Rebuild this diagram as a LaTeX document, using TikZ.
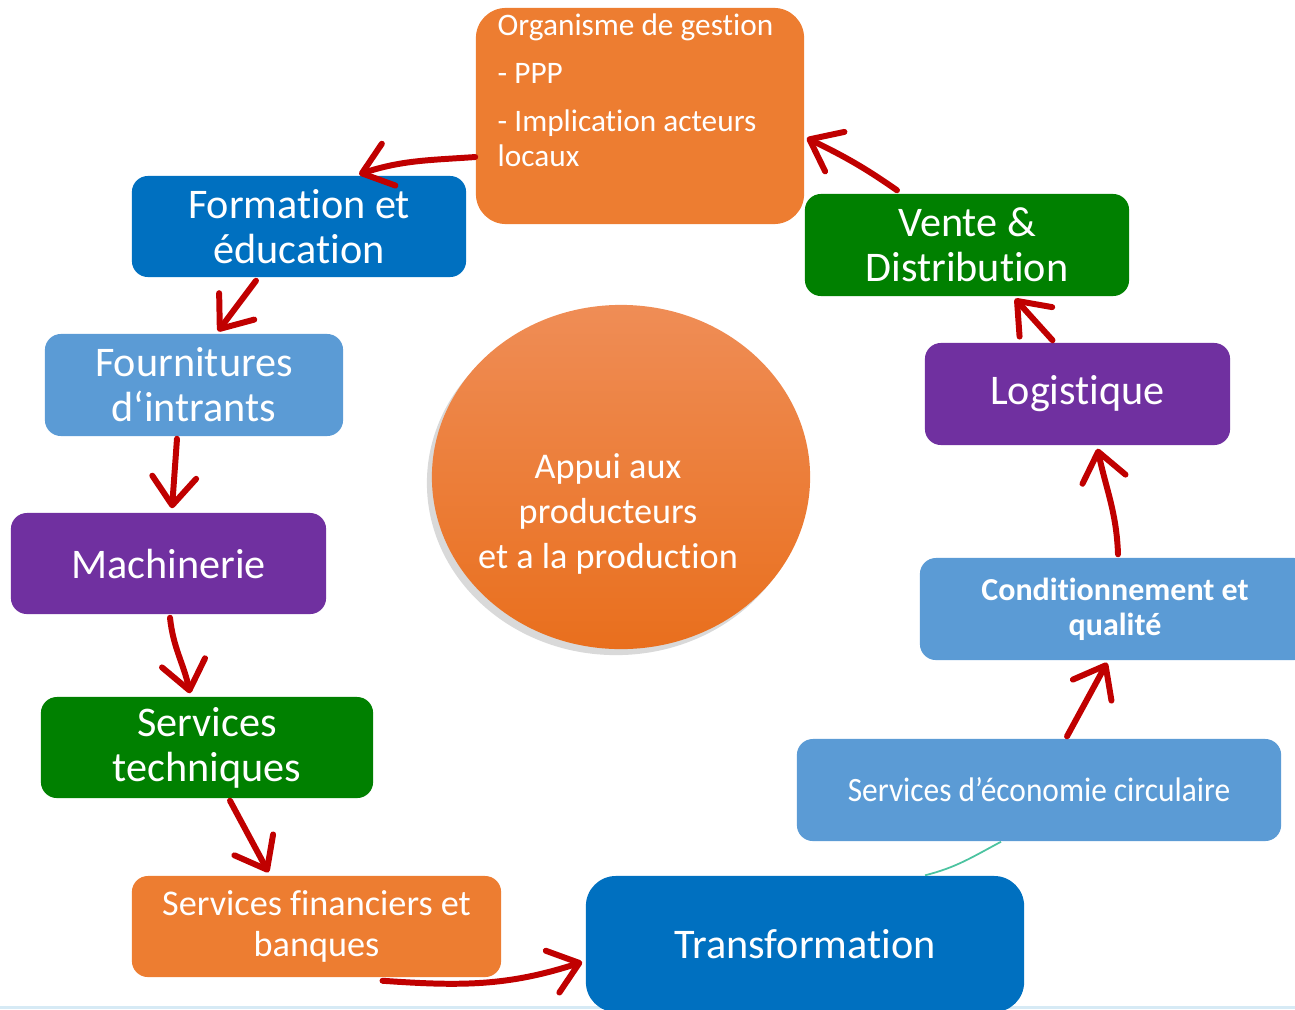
\documentclass[tikz,border=0pt]{standalone}
\usepackage{fontspec}
\setmainfont{Carlito}[Ligatures=NoCommon]
\newfontfamily\etroit{Carlito}[FakeStretch=0.92, Ligatures=NoCommon]
\usepackage{xcolor}
\usetikzlibrary{positioning,calc,shapes,arrows.meta,shadows}
\definecolor{orangeb}{HTML}{ED7D31}
\definecolor{orangeh}{HTML}{EF8D56}
\definecolor{orangeo}{HTML}{E96F1D}
\definecolor{bleuf}{HTML}{0070C0}
\definecolor{bleuc}{HTML}{5B9BD5}
\definecolor{violet}{HTML}{7030A0}
\definecolor{vert}{HTML}{008000}
\definecolor{rouge}{HTML}{C00000}
\definecolor{turquoise}{HTML}{4CC3A0}
\definecolor{bordbas}{HTML}{D6EAF5}

\begin{document}
\begin{tikzpicture}[x=0.01cm, y=0.01cm,
	boite/.style={rounded corners=0.16cm, text=white, align=center, inner sep=0pt,
		font=\fontsize{12}{12.8}\selectfont},
	fleche/.style={line width=1.7pt, rouge, line cap=round,
		-{Straight Barb[length=8pt,width=12.5pt,round]}}]
			\useasboundingbox (0,0) rectangle (1295,-1009);
			\clip (0,0) rectangle (1295,-1009);
			\draw [line width=0.6pt, bordbas] (0,-1007.5) -- (1295,-1007.5);
			% centre
			\node[ellipse, minimum width=3.78cm, minimum height=3.44cm, inner sep=0pt,
				top color=orangeh, bottom color=orangeo,
				drop shadow={shadow xshift=-0.05cm, shadow yshift=-0.06cm, opacity=0.3}] (appui) at (621,-477) {};
			\node[text=white, align=center, font=\fontsize{10.3}{12.8}\selectfont] (appuitxt) at (608,-514) {Appui aux\\producteurs\\et a la production};
			% boites
			\node[boite, fill=orangeb, rounded corners=0.3cm, minimum width=3.28cm, minimum height=2.16cm] (org) at (640,-116) {};
			\node[anchor=north west, inner sep=0pt, text=white, align=left,
				font=\fontsize{8.9}{10}\selectfont] (orgtxt) at (497,-13) {Organisme de gestion\\[3.7pt]- PPP\\[3.7pt]- Implication acteurs\\locaux};
			\node[boite, fill=bleuf, minimum width=3.34cm, minimum height=1.01cm] (form) at (299,-226.5) {Formation et\\éducation};
			\node[boite, fill=bleuc, minimum width=2.98cm, minimum height=1.02cm] (four) at (194,-385) {Fournitures\\d‘intrants};
			\node[boite, fill=violet, minimum width=3.15cm, minimum height=1.01cm] (mach) at (168.5,-563.5) {Machinerie};
			\node[boite, fill=vert, minimum width=3.32cm, minimum height=1.01cm] (tech) at (207,-747.5) {Services\\techniques};
			\node[boite, fill=orangeb, minimum width=3.69cm, minimum height=1.01cm,
				font=\fontsize{10.3}{11.7}\selectfont] (fin) at (316.5,-926.5) {Services financiers et\\banques};
			\node[boite, fill=bleuf, rounded corners=0.3cm, minimum width=4.38cm, minimum height=1.36cm] (trans) at (805,-944) {Transformation};
			\node[boite, fill=bleuc, minimum width=4.84cm, minimum height=1.02cm,
				font=\etroit\fontsize{9.7}{11}\selectfont] (eco) at (1039,-790) {Services d’économie circulaire};
			\node[boite, fill=bleuc, minimum width=3.9cm, minimum height=1.02cm,
				font=\bfseries\fontsize{9.1}{10}\selectfont] (cond) at (1115,-609) {Conditionnement et\\qualité};
			\node[boite, fill=violet, minimum width=3.05cm, minimum height=1.02cm] (logi) at (1077.5,-394) {Logistique};
			\node[boite, fill=vert, minimum width=3.24cm, minimum height=1.02cm] (vente) at (967,-245) {Vente \&\\Distribution};
			% fleches
			\draw[fleche] ([yshift=-0.41cm]org.west) to[out=184, in=18] ([xshift=0.6cm, yshift=0.01cm]form.north);
			\draw[fleche] ([xshift=-0.43cm, yshift=-0.03cm]form.south) -- ([xshift=0.24cm, yshift=0.02cm]four.north);
			\draw[fleche] ([xshift=-0.17cm, yshift=-0.02cm]four.south) -- ([xshift=0.035cm, yshift=0.04cm]mach.north);
			\draw[fleche] ([xshift=0.015cm, yshift=-0.03cm]mach.south) to[out=-84, in=102] ([xshift=-0.17cm, yshift=0.03cm]tech.north);
			\draw[fleche] ([xshift=0.23cm, yshift=-0.02cm]tech.south) -- ([xshift=-0.48cm, yshift=0.03cm]fin.north);
			\draw[fleche] ([xshift=0.66cm, yshift=-0.03cm]fin.south) to[out=-4, in=198] ([xshift=-0.03cm, yshift=-0.18cm]trans.west);
			\draw[line width=0.5pt, turquoise] ([xshift=1.2cm]trans.north) to[out=14, in=-152] ([xshift=-0.38cm]eco.south);
			\draw[fleche] ([xshift=0.28cm, yshift=0.02cm]eco.north) -- ([xshift=-0.08cm, yshift=-0.02cm]cond.south);
			\draw[fleche] ([xshift=0.03cm, yshift=0.03cm]cond.north) to[out=92, in=-78] ([xshift=0.2cm, yshift=-0.03cm]logi.south);
			\draw[fleche] ([xshift=-0.25cm, yshift=0.02cm]logi.north) -- ([xshift=0.48cm, yshift=-0.02cm]vente.south);
			\draw[fleche] ([xshift=-0.7cm, yshift=0.03cm]vente.north) to[out=145, in=-26] ([xshift=0.02cm, yshift=-0.22cm]org.east);
		\end{tikzpicture}
\end{document}
